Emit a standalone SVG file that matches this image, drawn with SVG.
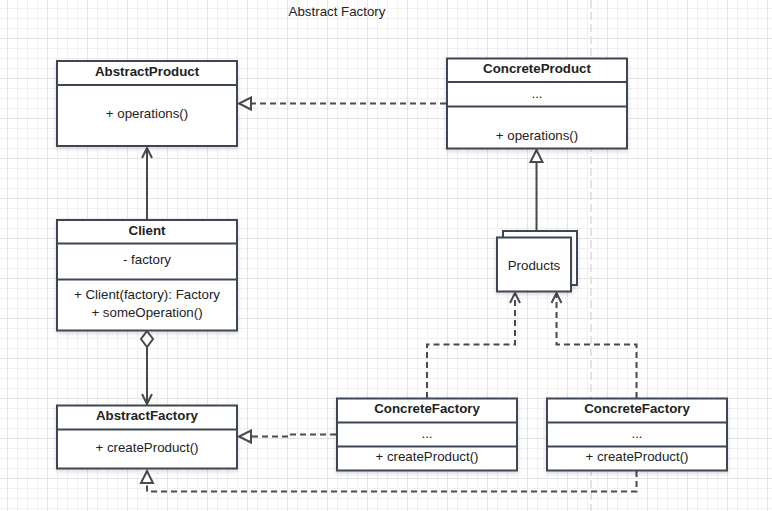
<svg xmlns="http://www.w3.org/2000/svg" width="772" height="511" viewBox="0 0 772 511">
<defs>
<style>
.box{fill:#fff;stroke:#3d4653;stroke-width:2;filter:url(#sh)}
.div{stroke:#3d4653;stroke-width:2;fill:none}
.t{font-family:"Liberation Sans",Arial,sans-serif;font-size:13.3px;fill:#222;text-anchor:middle;dominant-baseline:central}
.b{font-weight:bold}
.c{fill:none;stroke:#4a4a4a;stroke-width:2}
.d{stroke-dasharray:6,4}
</style>
<filter id="sh" x="-10%" y="-10%" width="120%" height="130%">
<feDropShadow dx="0" dy="2" stdDeviation="2" flood-color="#000" flood-opacity="0.15"/>
</filter>
<pattern id="minor" patternUnits="userSpaceOnUse" x="7" y="-2" width="10" height="10">
<path d="M0.5,0 V10 M0,0.5 H10" stroke="#f0f0f0" stroke-width="1" fill="none"/>
</pattern>
<pattern id="major" patternUnits="userSpaceOnUse" x="7" y="-2" width="40" height="40">
<path d="M0.5,0 V40 M0,0.5 H40" stroke="#e4e4e4" stroke-width="1" fill="none"/>
</pattern>
<marker id="tri" markerUnits="userSpaceOnUse" markerWidth="16" markerHeight="16" refX="13" refY="7" orient="auto" viewBox="0 0 16 14">
<path d="M1,1 L13,7 L1,13 Z" fill="#fff" stroke="#4a4a4a" stroke-width="2" stroke-dasharray="none"/>
</marker>
<marker id="chev" markerUnits="userSpaceOnUse" markerWidth="14" markerHeight="14" refX="11" refY="6" orient="auto" viewBox="0 0 14 12">
<path d="M1,1 L11,6 L1,11" fill="none" stroke="#4a4a4a" stroke-width="2" stroke-dasharray="none"/>
</marker>
<marker id="dia" markerUnits="userSpaceOnUse" markerWidth="20" markerHeight="20" refX="1" refY="8" orient="auto" viewBox="0 0 20 16">
<path d="M1,8 L9,2 L17,8 L9,14 Z" fill="#fff" stroke="#4a4a4a" stroke-width="2" stroke-dasharray="none"/>
</marker>
</defs>

<rect width="772" height="511" fill="#fff"/>
<rect width="772" height="511" fill="url(#minor)"/>
<rect width="772" height="511" fill="url(#major)"/>
<line x1="591" y1="0" x2="591" y2="511" stroke="#dcdcdc" stroke-width="1.5" stroke-dasharray="8,4"/>

<text class="t" x="337" y="11.5">Abstract Factory</text>

<g id="connectors">
<path class="c d" d="M446,103.5 H239" marker-end="url(#tri)"/>
<path class="c" d="M147,220 V148" marker-end="url(#chev)"/>
<path class="c" d="M536.5,231 V150" marker-end="url(#tri)"/>
<path class="c" d="M147,331 V404" marker-start="url(#dia)" marker-end="url(#chev)"/>
<path class="c d" d="M336,434.5 H287 V436.5 H239" marker-end="url(#tri)"/>
<path class="c d" d="M427,398 V344.5 H515 V293" marker-end="url(#chev)"/>
<path class="c d" d="M636.5,398 V344.5 H556.5 V293" marker-end="url(#chev)"/>
<path class="c d" d="M636.5,471 V491.5 H147 V471" marker-end="url(#tri)"/>
</g>

<g id="AbstractProduct">
<rect class="box" x="57" y="61" width="180" height="85"/>
<line class="div" x1="57" y1="85" x2="237" y2="85"/>
<text class="t b" x="147" y="71">AbstractProduct</text>
<text class="t" x="147" y="113.5">+ operations()</text>
</g>

<g id="ConcreteProduct">
<rect class="box" x="447" y="58.5" width="180" height="90"/>
<line class="div" x1="447" y1="82" x2="627" y2="82"/>
<line class="div" x1="447" y1="106.5" x2="627" y2="106.5"/>
<text class="t b" x="537" y="68.5">ConcreteProduct</text>
<text class="t" x="537" y="93.5">...</text>
<text class="t" x="537" y="135">+ operations()</text>
</g>

<g id="Client">
<rect class="box" x="57" y="220" width="180" height="110.5"/>
<line class="div" x1="57" y1="243.5" x2="237" y2="243.5"/>
<line class="div" x1="57" y1="279.5" x2="237" y2="279.5"/>
<text class="t b" x="147" y="230.5">Client</text>
<text class="t" x="147" y="259.5">- factory</text>
<text class="t" x="147" y="294.5">+ Client(factory): Factory</text>
<text class="t" x="147" y="312">+ someOperation()</text>
</g>

<g id="Products">
<rect class="box" x="503" y="231" width="74" height="54"/>
<rect class="box" x="497" y="237.5" width="74" height="54"/>
<text class="t" x="534" y="265.5">Products</text>
</g>

<g id="AbstractFactory">
<rect class="box" x="57" y="405.5" width="180" height="63"/>
<line class="div" x1="57" y1="429.5" x2="237" y2="429.5"/>
<text class="t b" x="147" y="415.5">AbstractFactory</text>
<text class="t" x="147" y="447.5">+ createProduct()</text>
</g>

<g id="ConcreteFactory1">
<rect class="box" x="337" y="398.5" width="180" height="72"/>
<line class="div" x1="337" y1="422.5" x2="517" y2="422.5"/>
<line class="div" x1="337" y1="446.5" x2="517" y2="446.5"/>
<text class="t b" x="427" y="408.5">ConcreteFactory</text>
<text class="t" x="427" y="433.5">...</text>
<text class="t" x="427" y="456.5">+ createProduct()</text>
</g>

<g id="ConcreteFactory2">
<rect class="box" x="547" y="398.5" width="180" height="72"/>
<line class="div" x1="547" y1="422.5" x2="727" y2="422.5"/>
<line class="div" x1="547" y1="446.5" x2="727" y2="446.5"/>
<text class="t b" x="637" y="408.5">ConcreteFactory</text>
<text class="t" x="637" y="433.5">...</text>
<text class="t" x="637" y="456.5">+ createProduct()</text>
</g>
</svg>
